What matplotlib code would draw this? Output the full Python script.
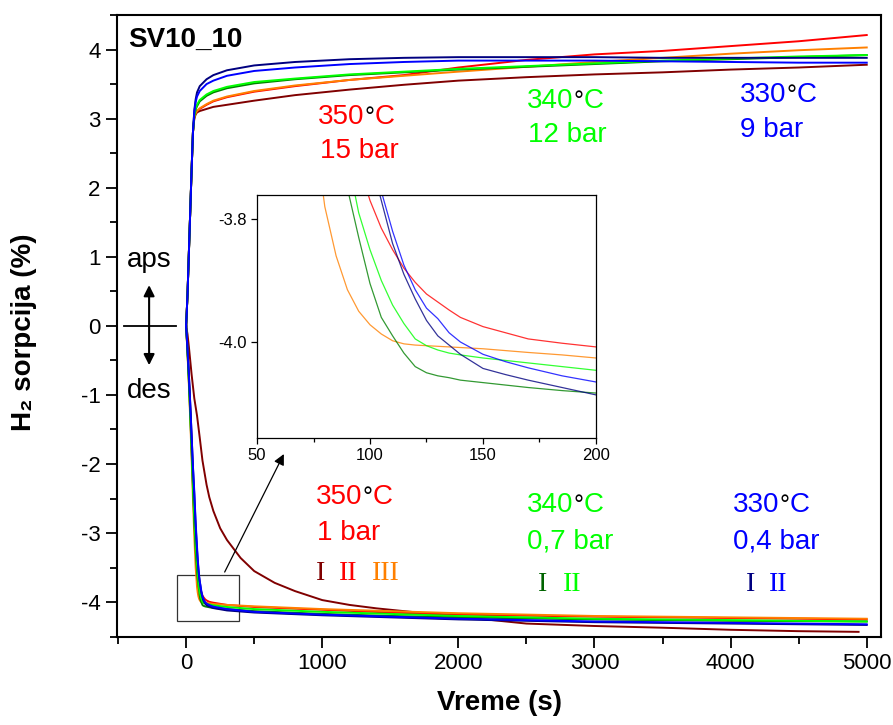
import matplotlib
matplotlib.use('Agg')
import matplotlib.pyplot as plt
from matplotlib.patches import Rectangle
from matplotlib.ticker import MultipleLocator, FormatStrFormatter

plt.rcParams['font.family'] = ['Liberation Sans', 'DejaVu Sans']
plt.rcParams['axes.unicode_minus'] = False

# absorption (aps) curves, time in s, sorption in %
t_abs = [0, 10, 20, 30, 40, 50, 60, 70, 80, 100, 150, 200, 300, 500, 800,
         1200, 1600, 2000, 2500, 3000, 3500, 4000, 4500, 5000]
rise = [0, 0.45, 1.05, 1.65, 2.25, 2.8]
abs_350_I = rise + [3.0, 3.06, 3.09, 3.11, 3.14, 3.17, 3.2, 3.26, 3.34, 3.42, 3.49, 3.55,
                    3.6, 3.64, 3.67, 3.71, 3.74, 3.78]
abs_350_II = rise + [3.02, 3.08, 3.11, 3.14, 3.20, 3.25, 3.31, 3.39, 3.47, 3.56, 3.63, 3.74,
                     3.85, 3.93, 3.98, 4.05, 4.12, 4.21]
abs_350_III = rise + [3.02, 3.08, 3.11, 3.15, 3.21, 3.26, 3.32, 3.40, 3.48, 3.56, 3.62, 3.68,
                      3.75, 3.82, 3.88, 3.94, 3.99, 4.03]
abs_340_I = rise + [3.04, 3.13, 3.18, 3.25, 3.33, 3.38, 3.44, 3.51, 3.57, 3.63, 3.67, 3.71,
                    3.75, 3.79, 3.83, 3.86, 3.89, 3.92]
abs_340_II = rise + [3.05, 3.15, 3.2, 3.27, 3.35, 3.40, 3.46, 3.53, 3.58, 3.64, 3.68, 3.72,
                     3.76, 3.80, 3.84, 3.87, 3.90, 3.92]
abs_330_I = rise + [3.12, 3.28, 3.38, 3.47, 3.57, 3.63, 3.70, 3.77, 3.82, 3.86, 3.88, 3.89,
                    3.89, 3.89, 3.88, 3.88, 3.88, 3.88]
abs_330_II = rise + [3.1, 3.24, 3.32, 3.40, 3.50, 3.55, 3.62, 3.69, 3.74, 3.79, 3.82, 3.84,
                     3.84, 3.84, 3.83, 3.82, 3.81, 3.81]

# desorption (des) curves
t_des = [0, 10, 20, 30, 40, 50, 60, 70, 80, 85, 90, 95, 100, 105, 110, 115, 120, 125, 130,
         135, 140, 150, 160, 170, 185, 200, 300, 500, 1000, 1500, 2000, 3000, 4000, 5000]
des_350_II = [0, -0.35, -0.75, -1.2, -1.68, -2.18, -2.6, -3.0, -3.35, -3.5, -3.62, -3.71, -3.77,
              -3.815, -3.85, -3.88, -3.903, -3.922, -3.935, -3.948, -3.96, -3.975, -3.985, -3.995,
              -4.002, -4.008, -4.04, -4.07, -4.11, -4.15, -4.18, -4.21, -4.23, -4.25]
des_350_III = [0, -0.4, -0.85, -1.35, -1.9, -2.5, -3.05, -3.5, -3.78, -3.86, -3.915, -3.95, -3.972,
               -3.987, -3.998, -4.003, -4.005, -4.006, -4.007, -4.008, -4.009, -4.011, -4.014, -4.017,
               -4.021, -4.026, -4.04, -4.06, -4.10, -4.13, -4.16, -4.20, -4.22, -4.24]
des_340_I = [0, -0.38, -0.8, -1.28, -1.8, -2.35, -2.85, -3.25, -3.55, -3.67, -3.75, -3.83, -3.905,
             -3.96, -3.99, -4.018, -4.04, -4.05, -4.055, -4.058, -4.062, -4.066, -4.07, -4.074,
             -4.079, -4.083, -4.10, -4.13, -4.17, -4.20, -4.22, -4.25, -4.27, -4.28]
des_340_II = [0, -0.37, -0.78, -1.25, -1.75, -2.28, -2.75, -3.15, -3.45, -3.58, -3.70, -3.79, -3.85,
              -3.90, -3.94, -3.97, -3.995, -4.006, -4.013, -4.018, -4.021, -4.026, -4.03, -4.034,
              -4.04, -4.046, -4.07, -4.10, -4.14, -4.17, -4.20, -4.24, -4.26, -4.28]
des_330_I = [0, -0.33, -0.7, -1.12, -1.58, -2.05, -2.45, -2.9, -3.25, -3.4, -3.52, -3.63, -3.70,
             -3.77, -3.84, -3.89, -3.93, -3.965, -3.99, -4.005, -4.02, -4.043, -4.053, -4.062,
             -4.074, -4.086, -4.12, -4.15, -4.19, -4.22, -4.25, -4.29, -4.31, -4.33]
des_330_II = [0, -0.33, -0.7, -1.12, -1.58, -2.03, -2.4, -2.85, -3.2, -3.36, -3.5, -3.61, -3.70,
              -3.755, -3.82, -3.875, -3.915, -3.945, -3.962, -3.985, -4.0, -4.02, -4.032, -4.042,
              -4.055, -4.065, -4.10, -4.14, -4.18, -4.21, -4.24, -4.28, -4.30, -4.32]

# slow desorption of run 350 I
t_des_350_I = [0, 10, 20, 40, 60, 80, 100, 120, 150, 170, 200, 250, 300, 400, 500, 650, 800,
               1000, 1200, 1400, 1600, 2000, 2500, 3000, 3500, 4000, 4500, 4940]
des_350_I = [0, -0.12, -0.3, -0.7, -1.05, -1.3, -1.62, -1.95, -2.3, -2.48, -2.68, -2.93, -3.1,
             -3.36, -3.55, -3.72, -3.84, -3.97, -4.04, -4.09, -4.13, -4.21, -4.31, -4.345, -4.37,
             -4.40, -4.42, -4.43]

series = [
    ('#800000', abs_350_I, t_des_350_I, des_350_I),
    ('#FF0000', abs_350_II, t_des, des_350_II),
    ('#FF8000', abs_350_III, t_des, des_350_III),
    ('#008000', abs_340_I, t_des, des_340_I),
    ('#00FF00', abs_340_II, t_des, des_340_II),
    ('#000080', abs_330_I, t_des, des_330_I),
    ('#0000FF', abs_330_II, t_des, des_330_II),
]

fig = plt.figure(figsize=(8.93, 7.25), dpi=100)
ax = fig.add_axes([0.1307, 0.1218, 0.8559, 0.8575])

for color, a, td, d in series:
    ax.plot(t_abs, a, color=color, lw=1.4)
    ax.plot(td, d, color=color, lw=1.4)

ax.set_xlim(-510, 5105)
ax.set_ylim(-4.5, 4.5)
ax.xaxis.set_major_locator(MultipleLocator(1000))
ax.xaxis.set_minor_locator(MultipleLocator(500))
ax.yaxis.set_major_locator(MultipleLocator(1))
ax.yaxis.set_minor_locator(MultipleLocator(0.5))
ax.tick_params(which='major', direction='out', length=8, width=1.3, labelsize=16)
ax.tick_params(which='minor', direction='out', length=5, width=1.3)
for s in ax.spines.values():
    s.set_linewidth(1.5)

ax.set_xlabel('Vreme (s)', fontsize=20, fontweight='bold')
ax.set_ylabel('H\u2082 sorpcija (%)', fontsize=20, fontweight='bold')
ax.xaxis.set_label_coords(0.501, -0.086)
ax.yaxis.set_label_coords(-0.104, 0.49)

ax.text(0.015, 0.96, 'SV10_10', transform=ax.transAxes, fontsize=20,
        fontweight='bold', va='center', ha='left')

# aps / des marker
ax.plot([-455, -73], [0, 0], color='black', lw=1.3)
ax.annotate('', xy=(-272, 0.63), xytext=(-272, -0.61),
            arrowprops=dict(arrowstyle='<|-|>', color='black', lw=1.5, mutation_scale=16))
ax.text(-272, 0.95, 'aps', fontsize=20, ha='center', va='center')
ax.text(-272, -0.95, 'des', fontsize=20, ha='center', va='center')


def temp_label(x, y, num, color):
    t1 = ax.text(x, y, num, color=color, fontsize=20, ha='left', va='center')
    t2 = ax.annotate('\u00b0', xy=(1, 0), xycoords=t1, color='black', fontsize=18,
                     ha='left', va='bottom')
    ax.annotate('C', xy=(1, 0), xycoords=t2, color=color, fontsize=20,
                ha='left', va='bottom')


temp_label(970, 3.02, '350', '#FF0000')
ax.text(985, 2.53, '15 bar', color='#FF0000', fontsize=20, ha='left', va='center')
temp_label(2505, 3.25, '340', '#00FF00')
ax.text(2513, 2.76, '12 bar', color='#00FF00', fontsize=20, ha='left', va='center')
temp_label(4070, 3.34, '330', '#0000FF')
ax.text(4070, 2.83, '9 bar', color='#0000FF', fontsize=20, ha='left', va='center')

temp_label(955, -2.48, '350', '#FF0000')
ax.text(965, -3.0, '1 bar', color='#FF0000', fontsize=20, ha='left', va='center')
temp_label(2505, -2.6, '340', '#00FF00')
ax.text(2505, -3.12, '0,7 bar', color='#00FF00', fontsize=20, ha='left', va='center')
temp_label(4019, -2.6, '330', '#0000FF')
ax.text(4019, -3.12, '0,4 bar', color='#0000FF', fontsize=20, ha='left', va='center')

roman = [(985, -3.58, 'I', '#800000'), (1187, -3.58, 'II', '#FF0000'),
         (1468, -3.58, 'III', '#FF8000'), (2619, -3.75, 'I', '#006400'),
         (2834, -3.75, 'II', '#00FF00'), (4144, -3.75, 'I', '#000080'),
         (4352, -3.75, 'II', '#0000FF')]
for x, y, s, c in roman:
    ax.text(x, y, s, color=c, fontsize=20, family='Liberation Serif',
            ha='center', va='center')

# zoom box and arrow
ax.add_patch(Rectangle((-68, -4.27), 458, 0.67, fill=False, edgecolor='#333333', lw=0.9))
ax.annotate('', xy=(727, -1.82), xytext=(274, -3.60),
            arrowprops=dict(arrowstyle='-|>', color='black', lw=0.9, mutation_scale=16))

# inset
axi = fig.add_axes([0.2878, 0.3959, 0.3796, 0.3352])
for color, a, td, d in series:
    axi.plot(td, d, color=color, lw=0.9, alpha=0.8)
axi.set_xlim(50, 200)
axi.set_ylim(-4.156, -3.761)
axi.xaxis.set_major_locator(MultipleLocator(50))
axi.xaxis.set_minor_locator(MultipleLocator(25))
axi.yaxis.set_major_locator(MultipleLocator(0.2))
axi.yaxis.set_major_formatter(FormatStrFormatter('%.1f'))
axi.tick_params(which='major', direction='out', length=4, width=0.9, labelsize=12)
axi.tick_params(which='minor', direction='out', length=3, width=0.9)
for s in axi.spines.values():
    s.set_linewidth(0.9)

fig.savefig('out.png', dpi=100)
